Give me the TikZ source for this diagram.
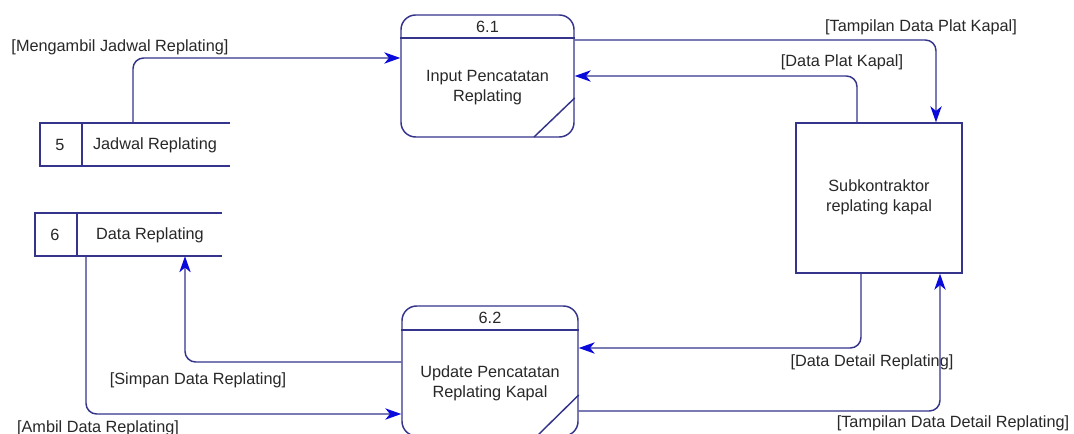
\documentclass[tikz,border=0pt]{standalone}
\usepackage{fontspec}
\setmainfont{Liberation Sans}
\usetikzlibrary{arrows.meta}
\definecolor{flowline}{RGB}{52,52,140}
\definecolor{tipblue}{RGB}{10,10,220}
\definecolor{txt}{RGB}{40,40,40}
\begin{document}
\begin{tikzpicture}[x=0.75pt,y=-0.75pt,
  line/.style={draw=flowline, line width=1.1pt},
  proc/.style={line, rectangle, rounded corners=11pt, inner sep=0pt},
  ent/.style={line, rectangle, inner sep=0pt},
  store/.style={rectangle, inner sep=0pt},
  flow/.style={line, rounded corners=8pt,
    -{Stealth[length=12pt,width=8.5pt,inset=3.5pt,color=tipblue]}},
  lbl/.style={font=\fontsize{12.2}{15}\selectfont, text=txt, inner sep=0pt, align=center},
]
\useasboundingbox[fill=white] (0,0) rectangle (1074,434);

% processes
\node[proc, minimum width=129.75pt, minimum height=91.5pt] (p1) at (487.5,76) {};
\draw[line] (p1.west |- 0,38) -- (p1.east |- 0,38);
\draw[line] (p1.east |- 0,98) -- (534,137);
\node[lbl] at (487.5,27) {6.1};
\node[lbl] at (487.5,88) {Input Pencatatan\\Replating};

\node[proc, minimum width=132pt, minimum height=97.5pt] (p2) at (490,371) {};
\draw[line] (p2.west |- 0,330) -- (p2.east |- 0,330);
\draw[line] (p2.east |- 0,395) -- (537,436);
\node[lbl] at (490,318) {6.2};
\node[lbl] at (490,383) {Update Pencatatan\\Replating Kapal};

% external entity
\node[ent, minimum width=124.5pt, minimum height=112.5pt] (sub) at (879,198) {};
\node[lbl] at (879,197) {Subkontraktor\\replating kapal};

% data stores
\node[store, minimum width=142.5pt, minimum height=32.25pt] (s5) at (135,144.5) {};
\draw[line] (230,123) -- (40,123) -- (40,166) -- (230,166);
\draw[line] (82,123) -- (82,166);
\node[lbl] at (60,145) {5};
\node[lbl] at (155,145) {Jadwal Replating};

\node[store, minimum width=140.25pt, minimum height=32.25pt] (s6) at (128.5,234.5) {};
\draw[line] (222,213) -- (35,213) -- (35,256) -- (222,256);
\draw[line] (77,213) -- (77,256);
\node[lbl] at (55,235) {6};
\node[lbl] at (150,235) {Data Replating};

% data flows
\draw[flow] (s5.north -| 133,0) -- (133,58) -- (p1.west |- 0,58);
\node[lbl] at (120,47) {[Mengambil Jadwal Replating]};

\draw[flow] (p1.east |- 0,40) -- (936,40) -- (sub.north -| 936,0);
\node[lbl] at (921,27) {[Tampilan Data Plat Kapal]};

\draw[flow] (sub.north -| 857,0) -- (857,76) -- (p1.east |- 0,76);
\node[lbl] at (842,62) {[Data Plat Kapal]};

\draw[flow] (sub.south -| 861,0) -- (861,348) -- (p2.east |- 0,348);
\node[lbl] at (872,362) {[Data Detail Replating]};

\draw[flow] (p2.east |- 0,411) -- (940,411) -- (sub.south -| 940,0);
\node[lbl] at (953,423) {[Tampilan Data Detail Replating]};

\draw[flow] (p2.west |- 0,362) -- (185,362) -- (s6.south -| 185,0);
\node[lbl] at (198,380) {[Simpan Data Replating]};

\draw[flow] (s6.south -| 86,0) -- (86,414) -- (p2.west |- 0,414);
\node[lbl] at (98,428) {[Ambil Data Replating]};
\end{tikzpicture}
\end{document}
